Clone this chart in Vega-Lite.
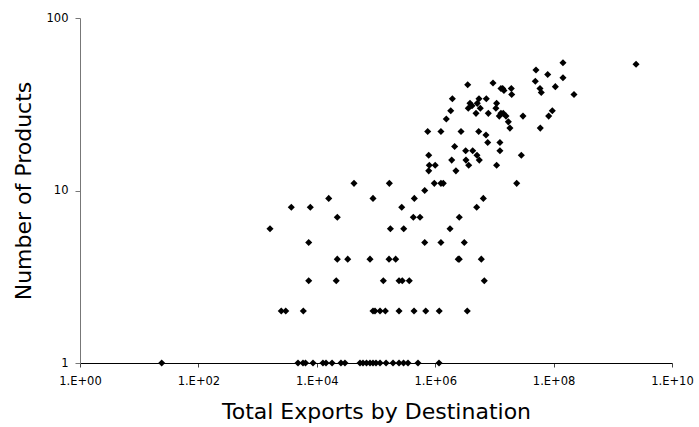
{
  "$schema": "https://vega.github.io/schema/vega-lite/v6.json",
  "autosize": "none",
  "width": 592,
  "height": 345,
  "padding": {"left": 80, "top": 18, "right": 27, "bottom": 64},
  "background": "white",
  "config": {"view": {"stroke": null}, "font": "DejaVu Sans"},
  "data": {"values": [
    {"exports": 24, "products": 1}, {"exports": 4810, "products": 1}, {"exports": 5850, "products": 1}, {"exports": 6450, "products": 1},
    {"exports": 8630, "products": 1}, {"exports": 12700, "products": 1}, {"exports": 14300, "products": 1}, {"exports": 18100, "products": 1},
    {"exports": 25600, "products": 1}, {"exports": 29900, "products": 1}, {"exports": 53700, "products": 1}, {"exports": 60300, "products": 1},
    {"exports": 69100, "products": 1}, {"exports": 79200, "products": 1}, {"exports": 89000, "products": 1}, {"exports": 100000, "products": 1},
    {"exports": 117000, "products": 1}, {"exports": 148000, "products": 1}, {"exports": 194000, "products": 1}, {"exports": 245000, "products": 1},
    {"exports": 292000, "products": 1}, {"exports": 347000, "products": 1}, {"exports": 512000, "products": 1}, {"exports": 1160000, "products": 1},
    {"exports": 2510, "products": 2}, {"exports": 2990, "products": 2}, {"exports": 5920, "products": 2}, {"exports": 89000, "products": 2},
    {"exports": 96100, "products": 2}, {"exports": 117000, "products": 2}, {"exports": 144000, "products": 2}, {"exports": 245000, "products": 2},
    {"exports": 439000, "products": 2}, {"exports": 692000, "products": 2}, {"exports": 1170000, "products": 2}, {"exports": 3480000, "products": 2},
    {"exports": 7300, "products": 3}, {"exports": 21300, "products": 3}, {"exports": 133000, "products": 3}, {"exports": 245000, "products": 3},
    {"exports": 278000, "products": 3}, {"exports": 365000, "products": 3}, {"exports": 6750000, "products": 3},
    {"exports": 22200, "products": 4}, {"exports": 33300, "products": 4}, {"exports": 79200, "products": 4}, {"exports": 166000, "products": 4},
    {"exports": 215000, "products": 4}, {"exports": 2450000, "products": 4}, {"exports": 2550000, "products": 4}, {"exports": 6010000, "products": 4},
    {"exports": 7300, "products": 5}, {"exports": 665000, "products": 5}, {"exports": 1250000, "products": 5}, {"exports": 3100000, "products": 5},
    {"exports": 1620, "products": 6}, {"exports": 175000, "products": 6}, {"exports": 294000, "products": 6}, {"exports": 1780000, "products": 6},
    {"exports": 22200, "products": 7}, {"exports": 427000, "products": 7}, {"exports": 554000, "products": 7}, {"exports": 2550000, "products": 7},
    {"exports": 3710, "products": 8}, {"exports": 7770, "products": 8}, {"exports": 272000, "products": 8}, {"exports": 5020000, "products": 8},
    {"exports": 15900, "products": 9}, {"exports": 89000, "products": 9}, {"exports": 444000, "products": 9}, {"exports": 6500000, "products": 9},
    {"exports": 665000, "products": 10},
    {"exports": 42500, "products": 11}, {"exports": 168000, "products": 11}, {"exports": 966000, "products": 11}, {"exports": 1250000, "products": 11},
    {"exports": 1370000, "products": 11}, {"exports": 23800000, "products": 11},
    {"exports": 777000, "products": 13}, {"exports": 2240000, "products": 13},
    {"exports": 795000, "products": 14}, {"exports": 1000000, "products": 14}, {"exports": 3680000, "products": 14}, {"exports": 10900000, "products": 14},
    {"exports": 1900000, "products": 15}, {"exports": 3310000, "products": 15}, {"exports": 5560000, "products": 15},
    {"exports": 777000, "products": 16}, {"exports": 5080000, "products": 16}, {"exports": 28500000, "products": 16},
    {"exports": 3270000, "products": 17}, {"exports": 4300000, "products": 17}, {"exports": 12400000, "products": 17},
    {"exports": 2130000, "products": 18},
    {"exports": 7710000, "products": 19}, {"exports": 12400000, "products": 19},
    {"exports": 7210000, "products": 21},
    {"exports": 747000, "products": 22}, {"exports": 1250000, "products": 22}, {"exports": 2730000, "products": 22}, {"exports": 5430000, "products": 22},
    {"exports": 59600000, "products": 23}, {"exports": 18300000, "products": 23},
    {"exports": 17200000, "products": 25},
    {"exports": 1540000, "products": 26},
    {"exports": 82600000, "products": 27}, {"exports": 30400000, "products": 27}, {"exports": 15700000, "products": 27}, {"exports": 12100000, "products": 27},
    {"exports": 4890000, "products": 28}, {"exports": 7890000, "products": 28}, {"exports": 12900000, "products": 28}, {"exports": 14100000, "products": 28},
    {"exports": 95100000, "products": 29}, {"exports": 1830000, "products": 29},
    {"exports": 3620000, "products": 30}, {"exports": 5780000, "products": 30}, {"exports": 10600000, "products": 30},
    {"exports": 4190000, "products": 31},
    {"exports": 3870000, "products": 32}, {"exports": 5140000, "products": 32}, {"exports": 10900000, "products": 32},
    {"exports": 1950000, "products": 34}, {"exports": 5490000, "products": 34}, {"exports": 7300000, "products": 34},
    {"exports": 221000000, "products": 36}, {"exports": 19600000, "products": 36},
    {"exports": 61900000, "products": 37},
    {"exports": 14500000, "products": 38},
    {"exports": 58900000, "products": 39}, {"exports": 12900000, "products": 39}, {"exports": 13800000, "products": 39}, {"exports": 19300000, "products": 39},
    {"exports": 107000000, "products": 40},
    {"exports": 3540000, "products": 41},
    {"exports": 9470000, "products": 42},
    {"exports": 49100000, "products": 43},
    {"exports": 144000000, "products": 45},
    {"exports": 79500000, "products": 47},
    {"exports": 50400000, "products": 50},
    {"exports": 2470000000, "products": 54},
    {"exports": 144000000, "products": 55}
  ]},
  "mark": {"type": "point", "shape": "diamond", "filled": true, "color": "black", "size": 50, "opacity": 1},
  "encoding": {
    "x": {
      "field": "exports", "type": "quantitative",
      "scale": {"type": "log", "domain": [1, 10000000000], "nice": false},
      "axis": {
        "title": "Total Exports by Destination", "titleFontSize": 22, "titleFontWeight": "normal", "titleColor": "black", "titlePadding": 15,
        "values": [1, 100, 10000, 1000000, 100000000, 10000000000],
        "labelExpr": "'1.E+' + (round(log(datum.value)/LN10) < 10 ? '0' : '') + round(log(datum.value)/LN10)",
        "labelFontSize": 11.5, "labelColor": "black", "labelPadding": 8, "labelFlush": false,
        "grid": false, "domainColor": "black", "tickColor": "#444", "tickSize": 4
      }
    },
    "y": {
      "field": "products", "type": "quantitative",
      "scale": {"type": "log", "domain": [1, 100], "nice": false},
      "axis": {
        "title": "Number of Products", "titleFontSize": 22, "titleFontWeight": "normal", "titleColor": "black", "titlePadding": 11,
        "values": [1, 10, 100], "format": "d",
        "labelFontSize": 11.5, "labelColor": "black", "labelPadding": 7,
        "grid": false, "domainColor": "#777", "tickColor": "#777", "tickSize": 5
      }
    }
  }
}
